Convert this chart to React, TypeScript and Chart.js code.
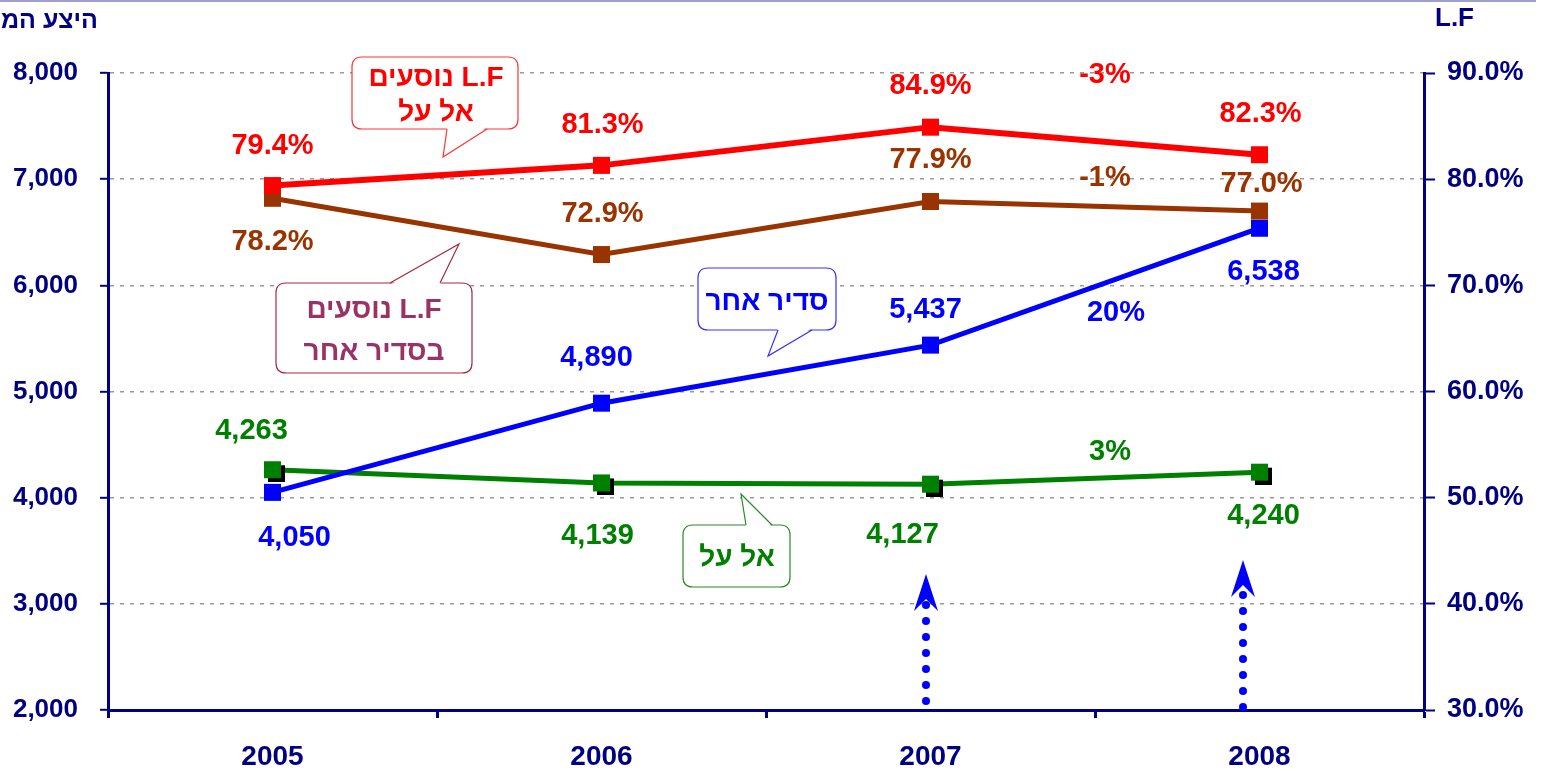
import React, { useEffect, useRef } from 'react';
import { Chart, registerables } from 'chart.js';

Chart.register(...registerables);

// ---- data ----
const years = ['2005', '2006', '2007', '2008'];
const lfElAl = [79.4, 81.3, 84.9, 82.3];          // % (right axis)
const lfOther = [78.2, 72.9, 77.9, 77.0];         // % (right axis)
const seatsOther = [4050, 4890, 5437, 6538];      // left axis
const seatsElAl = [4263, 4139, 4127, 4240];       // left axis
const changeLabels = ['-3%', '-1%', '20%', '3%']; // red, brown, blue, green
const leftMin = 2000, leftMax = 8000, leftStep = 1000;
const rightMin = 30, rightMax = 90, rightStep = 10;

const titleLeft = 'היצע המושבים';
const titleRight = 'L.F';

// ---- styling ----
const NAVY = '#000080';
const RED = '#ff0000';
const BROWN = '#993300';
const BLUE = '#0000ff';
const GREEN = '#008000';
const FONT = '"Liberation Sans", Arial, "DejaVu Sans", sans-serif';

// label offsets (px) relative to each point
const offRed = [[0, -40], [1, -40], [0, -41], [1, -41]];
const offBrown = [[0, 44], [1, -41], [0, -41], [2, -27]];
const offBlue = [[22, 46], [-5, -45], [-5, -35], [4, 44]];
const offGreen = [[-21, -39], [-4, 53], [-28, 51], [4, 44]];

function makeMarker(color: string, shadow: boolean) {
  const s = 17, off = 4;
  const c = document.createElement('canvas');
  c.width = s + off * 2;
  c.height = s + off * 2;
  const g = c.getContext('2d')!;
  if (shadow) {
    g.fillStyle = '#000';
    g.fillRect(off * 2, off * 2, s, s);
  }
  g.fillStyle = color;
  g.fillRect(off, off, s, s);
  return c;
}

function roundRectPath(ctx: CanvasRenderingContext2D, x: number, y: number, w: number, h: number, r: number) {
  ctx.beginPath();
  ctx.moveTo(x + r, y);
  ctx.lineTo(x + w - r, y);
  ctx.quadraticCurveTo(x + w, y, x + w, y + r);
  ctx.lineTo(x + w, y + h - r);
  ctx.quadraticCurveTo(x + w, y + h, x + w - r, y + h);
  ctx.lineTo(x + r, y + h);
  ctx.quadraticCurveTo(x, y + h, x, y + h - r);
  ctx.lineTo(x, y + r);
  ctx.quadraticCurveTo(x, y, x + r, y);
  ctx.closePath();
}

type Callout = {
  box: [number, number, number, number];
  tail: [[number, number], [number, number], [number, number]];
  border: string;
  color: string;
  lines: { text: string; y: number }[];
  cx: number;
};

const callouts: Callout[] = [
  {
    box: [352, 57, 166, 72],
    tail: [[447, 129], [443, 157], [487, 129]],
    border: '#ff3333', color: RED, cx: 436,
    lines: [{ text: 'L.F נוסעים', y: 78 }, { text: 'אל על', y: 113 }],
  },
  {
    box: [276, 283, 196, 90],
    tail: [[390, 283], [459, 244], [440, 283]],
    border: '#a8283c', color: '#993366', cx: 374,
    lines: [{ text: 'L.F נוסעים', y: 310 }, { text: 'בסדיר אחר', y: 352 }],
  },
  {
    box: [698, 268, 138, 62],
    tail: [[778, 330], [768, 356], [812, 330]],
    border: '#3333ff', color: BLUE, cx: 767,
    lines: [{ text: 'סדיר אחר', y: 302 }],
  },
  {
    box: [683, 525, 107, 62],
    tail: [[746, 525], [741, 494], [772, 525]],
    border: '#2a8a2a', color: GREEN, cx: 737,
    lines: [{ text: 'אל על', y: 558 }],
  },
];

function drawCallout(ctx: CanvasRenderingContext2D, c: Callout) {
  const [x, y, w, h] = c.box;
  ctx.save();
  roundRectPath(ctx, x, y, w, h, 10);
  ctx.fillStyle = '#fff';
  ctx.fill();
  ctx.lineWidth = 1.2;
  ctx.strokeStyle = c.border;
  ctx.stroke();
  const [p1, tip, p2] = c.tail;
  const inward = tip[1] > y + h / 2 ? -2 : 2;
  ctx.beginPath();
  ctx.moveTo(p1[0], p1[1] + inward);
  ctx.lineTo(tip[0], tip[1]);
  ctx.lineTo(p2[0], p2[1] + inward);
  ctx.closePath();
  ctx.fillStyle = '#fff';
  ctx.fill();
  ctx.beginPath();
  ctx.moveTo(p1[0], p1[1]);
  ctx.lineTo(tip[0], tip[1]);
  ctx.lineTo(p2[0], p2[1]);
  ctx.stroke();
  ctx.fillStyle = c.color;
  ctx.font = `bold 28px ${FONT}`;
  ctx.textAlign = 'center';
  ctx.textBaseline = 'middle';
  (ctx as any).direction = 'rtl';
  c.lines.forEach((l) => ctx.fillText(l.text, c.cx, l.y));
  ctx.restore();
}

function drawDottedArrow(ctx: CanvasRenderingContext2D, x: number, tipY: number, bottomY: number) {
  ctx.save();
  ctx.fillStyle = BLUE;
  for (let yy = bottomY; yy >= tipY + 30; yy -= 16) {
    ctx.beginPath();
    ctx.arc(x, yy, 4, 0, Math.PI * 2);
    ctx.fill();
  }
  ctx.beginPath();
  ctx.moveTo(x, tipY);
  ctx.lineTo(x + 12, tipY + 37);
  ctx.lineTo(x, tipY + 25);
  ctx.lineTo(x - 12, tipY + 37);
  ctx.closePath();
  ctx.fill();
  ctx.restore();
}

const overlayPlugin = {
  id: 'overlay',
  beforeDraw(chart: any) {
    const ctx = chart.ctx as CanvasRenderingContext2D;
    ctx.save();
    ctx.fillStyle = '#fff';
    ctx.fillRect(0, 0, chart.width, chart.height);
    ctx.strokeStyle = '#a0a0d0';
    ctx.lineWidth = 2;
    ctx.beginPath();
    ctx.moveTo(0, 1);
    ctx.lineTo(1536, 1);
    ctx.stroke();
    ctx.fillStyle = NAVY;
    ctx.font = `bold 25px ${FONT}`;
    ctx.textBaseline = 'middle';
    ctx.textAlign = 'right';
    (ctx as any).direction = 'rtl';
    ctx.fillText(titleLeft, 98, 21);
    (ctx as any).direction = 'ltr';
    ctx.textAlign = 'left';
    ctx.font = `bold 26px ${FONT}`;
    ctx.fillText(titleRight, 1435, 19);
    ctx.restore();
  },
  afterDatasetsDraw(chart: any) {
    const ctx = chart.ctx as CanvasRenderingContext2D;
    // arrows
    drawDottedArrow(ctx, 926, 574, 701);
    drawDottedArrow(ctx, 1243, 560, 707);
    // data labels
    const specs: [number, string, number[][], (v: number) => string][] = [
      [0, RED, offRed, (v) => v.toFixed(1) + '%'],
      [1, BROWN, offBrown, (v) => v.toFixed(1) + '%'],
      [2, BLUE, offBlue, (v) => v.toLocaleString('en-US')],
      [3, GREEN, offGreen, (v) => v.toLocaleString('en-US')],
    ];
    ctx.save();
    ctx.font = `bold 29px ${FONT}`;
    ctx.textAlign = 'center';
    ctx.textBaseline = 'middle';
    specs.forEach(([di, color, offs, fmt]) => {
      const meta = chart.getDatasetMeta(di);
      const data = chart.data.datasets[di].data as number[];
      ctx.fillStyle = color;
      meta.data.forEach((pt: any, i: number) => {
        ctx.fillText(fmt(data[i]), pt.x + offs[i][0], pt.y + offs[i][1]);
      });
    });
    // change labels between 2007 and 2008
    const xs = chart.scales.x;
    const mid = (xs.getPixelForValue(2) + xs.getPixelForValue(3)) / 2;
    const changePos: [string, number, number][] = [
      [RED, 10, 75],
      [BROWN, 10, 178],
      [BLUE, 21, 313],
      [GREEN, 15, 452],
    ];
    changeLabels.forEach((t, i) => {
      const [c, dx, yy] = changePos[i];
      ctx.fillStyle = c;
      ctx.fillText(t, mid + dx, yy);
    });
    ctx.restore();
    callouts.forEach((c) => drawCallout(ctx, c));
  },
};

export default function App() {
  const ref = useRef<HTMLCanvasElement>(null);
  useEffect(() => {
    if (!ref.current) return;
    const chart = new Chart(ref.current, {
      type: 'line',
      data: {
        labels: years,
        datasets: [
          {
            label: 'L.F אל על',
            data: lfElAl,
            yAxisID: 'y1',
            borderColor: RED,
            borderWidth: 6,
            pointStyle: makeMarker(RED, false) as any,
            pointRadius: 8,
            tension: 0,
          },
          {
            label: 'L.F סדיר אחר',
            data: lfOther,
            yAxisID: 'y1',
            borderColor: BROWN,
            borderWidth: 5,
            pointStyle: makeMarker(BROWN, false) as any,
            pointRadius: 8,
            tension: 0,
          },
          {
            label: 'סדיר אחר',
            data: seatsOther,
            yAxisID: 'y',
            borderColor: BLUE,
            borderWidth: 5,
            pointStyle: makeMarker(BLUE, false) as any,
            pointRadius: 8,
            tension: 0,
          },
          {
            label: 'אל על',
            data: seatsElAl,
            yAxisID: 'y',
            borderColor: GREEN,
            borderWidth: 5,
            pointStyle: makeMarker(GREEN, true) as any,
            pointRadius: 8,
            tension: 0,
          },
        ],
      },
      options: {
        animation: false,
        responsive: false,
        devicePixelRatio: 1,
        layout: { padding: { top: 73, left: 0, right: 0, bottom: 0 } },
        plugins: { legend: { display: false }, tooltip: { enabled: false } },
        scales: {
          x: {
            offset: true,
            afterFit: (s: any) => { s.height = 61; },
            grid: { drawOnChartArea: false, drawTicks: true, tickLength: 8, tickColor: NAVY, tickWidth: 3, offset: true },
            border: { color: NAVY, width: 3 },
            ticks: { color: NAVY, font: { family: FONT, size: 28, weight: 'bold' }, padding: 22 },
          },
          y: {
            position: 'left',
            min: leftMin,
            max: leftMax,
            afterFit: (s: any) => { s.width = 108; },
            ticks: {
              stepSize: leftStep,
              color: NAVY,
              padding: 22,
              font: { family: FONT, size: 26, weight: 'bold' },
              callback: (v: any) => Number(v).toLocaleString('en-US'),
            },
            grid: { color: '#999999', lineWidth: 1.6, tickLength: 8, tickColor: NAVY, tickWidth: 2 },
            border: { color: NAVY, width: 3, dash: [4, 6] },
          },
          y1: {
            position: 'right',
            min: rightMin,
            max: rightMax,
            afterFit: (s: any) => { s.width = 118; },
            ticks: {
              stepSize: rightStep,
              color: NAVY,
              padding: 12,
              font: { family: FONT, size: 27, weight: 'bold' },
              callback: (v: any) => Number(v).toFixed(1) + '%',
            },
            grid: { drawOnChartArea: false, tickLength: 11, tickColor: NAVY, tickWidth: 2 },
            border: { color: NAVY, width: 3 },
          },
        },
      },
      plugins: [overlayPlugin],
    } as any);
    return () => chart.destroy();
  }, []);
  return (
    <div style={{ position: 'absolute', left: 0, top: 0, width: 1542, height: 771 }}>
      <canvas ref={ref} width={1542} height={771} style={{ width: 1542, height: 771, display: 'block' }} />
    </div>
  );
}
